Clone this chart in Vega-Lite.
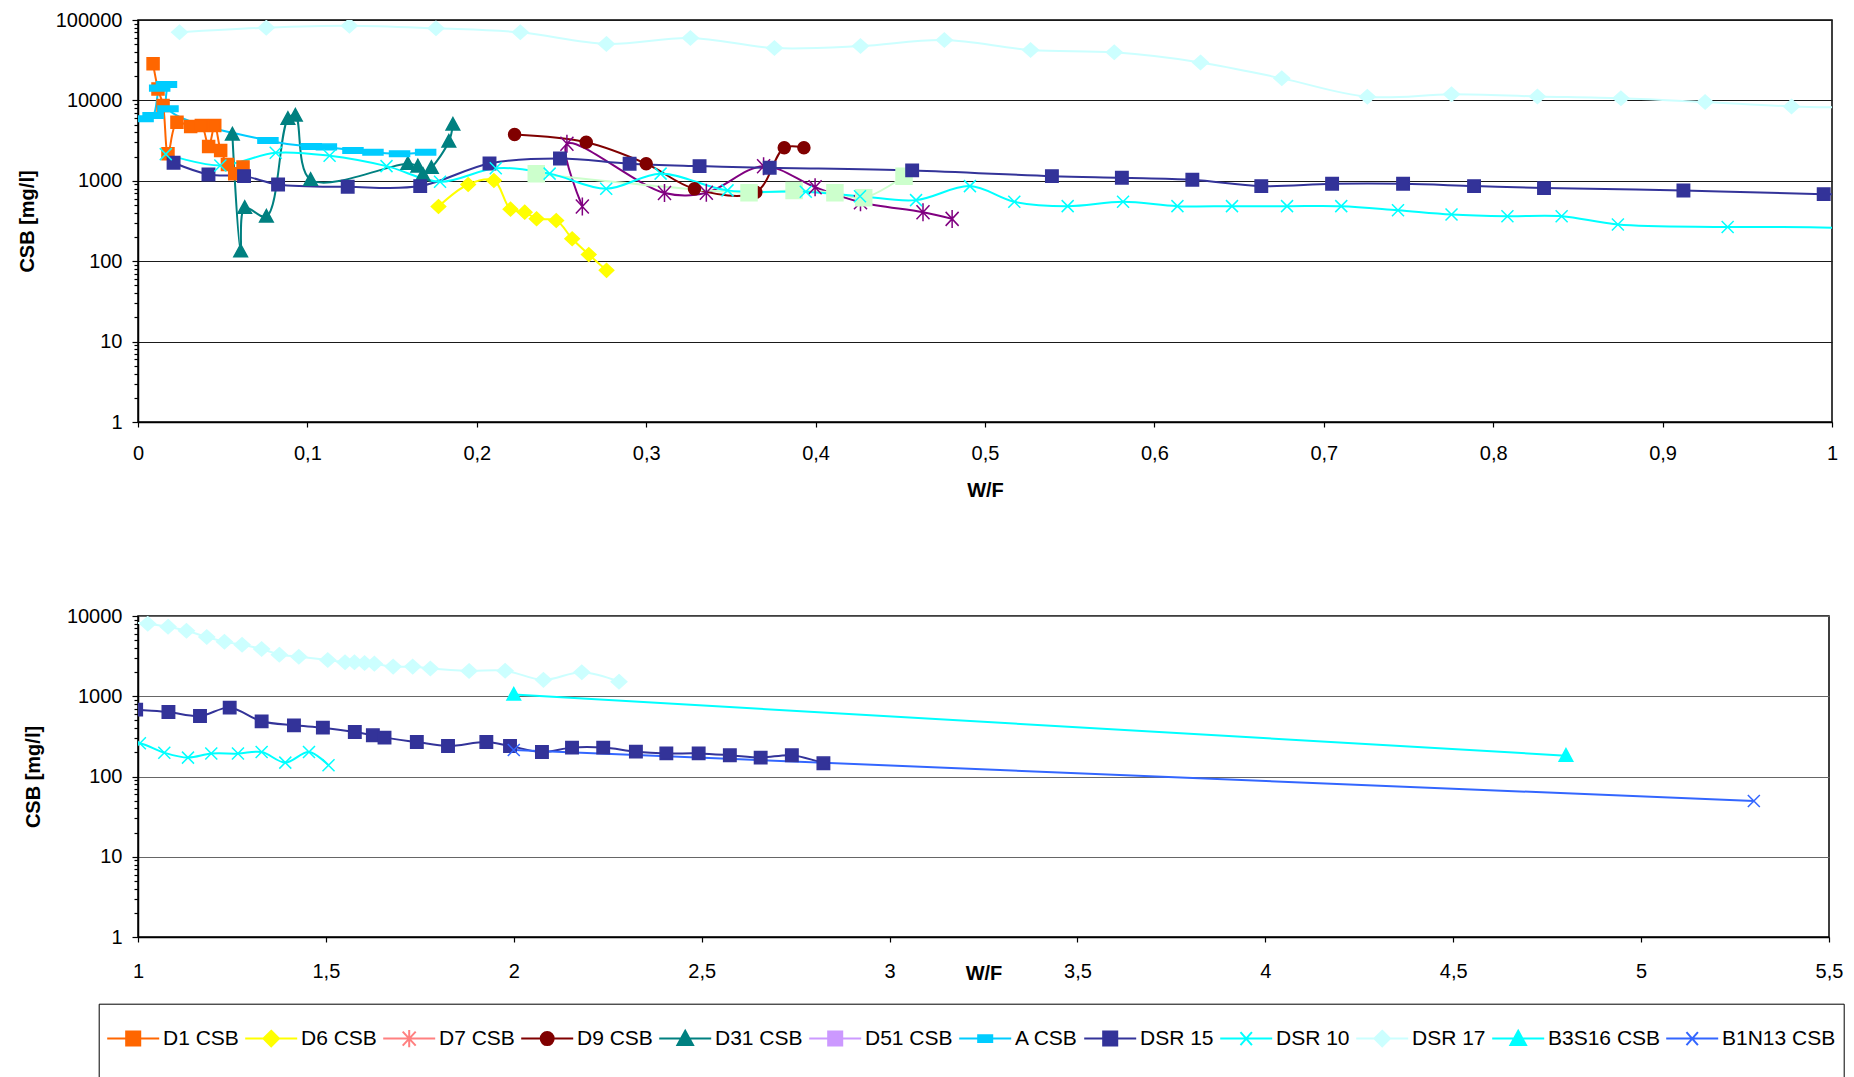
{
  "$schema": "https://vega.github.io/schema/vega-lite/v6.json",
  "padding": {"left": 16, "top": 9, "right": 0, "bottom": 0},
  "background": "#ffffff",
  "config": {
    "font": "Liberation Sans",
    "view": {"stroke": "#000000", "strokeWidth": 1.5},
    "axis": {
      "labelFont": "Liberation Sans",
      "labelFontSize": 20,
      "labelColor": "#000000",
      "titleFont": "Liberation Sans",
      "titleFontSize": 20,
      "titleFontWeight": "bold",
      "titleColor": "#000000",
      "domainColor": "#000000",
      "domainWidth": 1.5,
      "tickColor": "#000000",
      "tickWidth": 1.2,
      "labelFlush": false,
      "labelOverlap": false
    },
    "legend": {
      "labelFont": "Liberation Sans",
      "labelFontSize": 21,
      "labelColor": "#000000",
      "padding": 7.5,
      "strokeColor": "#000000",
      "symbolSize": 2704,
      "symbolStrokeWidth": 2,
      "symbolOffset": 0,
      "labelOffset": 2.8,
      "columnPadding": 2,
      "rowPadding": 0,
      "labelLimit": 300
    }
  },
  "datasets": {
    "csb": [
      {"s": "D1 CSB", "x": 0.0089, "y": 28500},
      {"s": "D1 CSB", "x": 0.0118, "y": 13900},
      {"s": "D1 CSB", "x": 0.0148, "y": 8650},
      {"s": "D1 CSB", "x": 0.0177, "y": 2170},
      {"s": "D1 CSB", "x": 0.023, "y": 5350},
      {"s": "D1 CSB", "x": 0.0311, "y": 4730},
      {"s": "D1 CSB", "x": 0.0374, "y": 4870},
      {"s": "D1 CSB", "x": 0.0417, "y": 2670},
      {"s": "D1 CSB", "x": 0.0453, "y": 4870},
      {"s": "D1 CSB", "x": 0.0488, "y": 2380},
      {"s": "D1 CSB", "x": 0.0528, "y": 1600},
      {"s": "D1 CSB", "x": 0.0571, "y": 1220},
      {"s": "D1 CSB", "x": 0.062, "y": 1480},

      {"s": "D6 CSB", "x": 0.1774, "y": 479},
      {"s": "D6 CSB", "x": 0.1949, "y": 899},
      {"s": "D6 CSB", "x": 0.2101, "y": 1008},
      {"s": "D6 CSB", "x": 0.2199, "y": 444},
      {"s": "D6 CSB", "x": 0.2283, "y": 407},
      {"s": "D6 CSB", "x": 0.2353, "y": 337},
      {"s": "D6 CSB", "x": 0.2469, "y": 321},
      {"s": "D6 CSB", "x": 0.2563, "y": 190},
      {"s": "D6 CSB", "x": 0.2661, "y": 121},
      {"s": "D6 CSB", "x": 0.2766, "y": 77},

      {"s": "D7 CSB", "x": 0.2623, "y": 479},
      {"s": "D7 CSB", "x": 0.2532, "y": 2884},
      {"s": "D7 CSB", "x": 0.3108, "y": 705},
      {"s": "D7 CSB", "x": 0.3355, "y": 712},
      {"s": "D7 CSB", "x": 0.3693, "y": 1520},
      {"s": "D7 CSB", "x": 0.3997, "y": 832},
      {"s": "D7 CSB", "x": 0.4265, "y": 542},
      {"s": "D7 CSB", "x": 0.4634, "y": 407},
      {"s": "D7 CSB", "x": 0.4806, "y": 336},

      {"s": "D9 CSB", "x": 0.2223, "y": 3770},
      {"s": "D9 CSB", "x": 0.2646, "y": 3020},
      {"s": "D9 CSB", "x": 0.3, "y": 1630},
      {"s": "D9 CSB", "x": 0.3285, "y": 794},
      {"s": "D9 CSB", "x": 0.3647, "y": 720},
      {"s": "D9 CSB", "x": 0.3815, "y": 2570},
      {"s": "D9 CSB", "x": 0.3931, "y": 2570},

      {"s": "D31 CSB", "x": 0.0557, "y": 3770},
      {"s": "D31 CSB", "x": 0.0606, "y": 133},
      {"s": "D31 CSB", "x": 0.063, "y": 462},
      {"s": "D31 CSB", "x": 0.0758, "y": 359},
      {"s": "D31 CSB", "x": 0.0885, "y": 5900},
      {"s": "D31 CSB", "x": 0.0929, "y": 6490},
      {"s": "D31 CSB", "x": 0.1019, "y": 1030},
      {"s": "D31 CSB", "x": 0.1593, "y": 1630},
      {"s": "D31 CSB", "x": 0.1652, "y": 1510},
      {"s": "D31 CSB", "x": 0.1682, "y": 1190},
      {"s": "D31 CSB", "x": 0.1732, "y": 1450},
      {"s": "D31 CSB", "x": 0.1835, "y": 3080},
      {"s": "D31 CSB", "x": 0.1859, "y": 5010},

      {"s": "D51 CSB", "x": 0.2351, "y": 1222},
      {"s": "D51 CSB", "x": 0.3607, "y": 710},
      {"s": "D51 CSB", "x": 0.3873, "y": 757},
      {"s": "D51 CSB", "x": 0.4114, "y": 710},
      {"s": "D51 CSB", "x": 0.4284, "y": 615},
      {"s": "D51 CSB", "x": 0.4522, "y": 1140},

      {"s": "A CSB", "x": 0.003, "y": 5900},
      {"s": "A CSB", "x": 0.0089, "y": 6490},
      {"s": "A CSB", "x": 0.0128, "y": 14200},
      {"s": "A CSB", "x": 0.0168, "y": 15800},
      {"s": "A CSB", "x": 0.0177, "y": 7870},
      {"s": "A CSB", "x": 0.0767, "y": 3170},
      {"s": "A CSB", "x": 0.1023, "y": 2670},
      {"s": "A CSB", "x": 0.1112, "y": 2640},
      {"s": "A CSB", "x": 0.1269, "y": 2380},
      {"s": "A CSB", "x": 0.1387, "y": 2270},
      {"s": "A CSB", "x": 0.1544, "y": 2170},
      {"s": "A CSB", "x": 0.1698, "y": 2270},

      {"s": "DSR 15", "x": 0.021, "y": 1675},
      {"s": "DSR 15", "x": 0.0416, "y": 1200},
      {"s": "DSR 15", "x": 0.0626, "y": 1143},
      {"s": "DSR 15", "x": 0.0827, "y": 900},
      {"s": "DSR 15", "x": 0.1238, "y": 842},
      {"s": "DSR 15", "x": 0.1666, "y": 859},
      {"s": "DSR 15", "x": 0.2075, "y": 1644},
      {"s": "DSR 15", "x": 0.2491, "y": 1897},
      {"s": "DSR 15", "x": 0.2902, "y": 1629},
      {"s": "DSR 15", "x": 0.3315, "y": 1523},
      {"s": "DSR 15", "x": 0.3729, "y": 1453},
      {"s": "DSR 15", "x": 0.457, "y": 1346},
      {"s": "DSR 15", "x": 0.5395, "y": 1143},
      {"s": "DSR 15", "x": 0.5808, "y": 1090},
      {"s": "DSR 15", "x": 0.6224, "y": 1029},
      {"s": "DSR 15", "x": 0.6631, "y": 859},
      {"s": "DSR 15", "x": 0.7049, "y": 918},
      {"s": "DSR 15", "x": 0.7468, "y": 918},
      {"s": "DSR 15", "x": 0.7887, "y": 859},
      {"s": "DSR 15", "x": 0.83, "y": 811},
      {"s": "DSR 15", "x": 0.9123, "y": 758},
      {"s": "DSR 15", "x": 0.9951, "y": 682},
      {"s": "DSR 15", "x": 1.081, "y": 637},
      {"s": "DSR 15", "x": 1.165, "y": 568},
      {"s": "DSR 15", "x": 1.244, "y": 721},
      {"s": "DSR 15", "x": 1.329, "y": 487},
      {"s": "DSR 15", "x": 1.415, "y": 434},
      {"s": "DSR 15", "x": 1.492, "y": 406},
      {"s": "DSR 15", "x": 1.577, "y": 359},
      {"s": "DSR 15", "x": 1.625, "y": 326},
      {"s": "DSR 15", "x": 1.656, "y": 305},
      {"s": "DSR 15", "x": 1.742, "y": 269},
      {"s": "DSR 15", "x": 1.825, "y": 240},
      {"s": "DSR 15", "x": 1.927, "y": 269},
      {"s": "DSR 15", "x": 1.99, "y": 240},
      {"s": "DSR 15", "x": 2.075, "y": 202},
      {"s": "DSR 15", "x": 2.155, "y": 229},
      {"s": "DSR 15", "x": 2.238, "y": 229},
      {"s": "DSR 15", "x": 2.325, "y": 204},
      {"s": "DSR 15", "x": 2.406, "y": 194},
      {"s": "DSR 15", "x": 2.492, "y": 194},
      {"s": "DSR 15", "x": 2.575, "y": 184},
      {"s": "DSR 15", "x": 2.657, "y": 172},
      {"s": "DSR 15", "x": 2.74, "y": 184},
      {"s": "DSR 15", "x": 2.824, "y": 146},

      {"s": "DSR 10", "x": 0.0164, "y": 2148},
      {"s": "DSR 10", "x": 0.0486, "y": 1552},
      {"s": "DSR 10", "x": 0.0813, "y": 2233},
      {"s": "DSR 10", "x": 0.1131, "y": 2048},
      {"s": "DSR 10", "x": 0.1467, "y": 1523},
      {"s": "DSR 10", "x": 0.1783, "y": 972},
      {"s": "DSR 10", "x": 0.2112, "y": 1430},
      {"s": "DSR 10", "x": 0.243, "y": 1228},
      {"s": "DSR 10", "x": 0.2764, "y": 798},
      {"s": "DSR 10", "x": 0.3085, "y": 1228},
      {"s": "DSR 10", "x": 0.348, "y": 760},
      {"s": "DSR 10", "x": 0.3942, "y": 730},
      {"s": "DSR 10", "x": 0.4262, "y": 644},
      {"s": "DSR 10", "x": 0.4593, "y": 575},
      {"s": "DSR 10", "x": 0.4911, "y": 859},
      {"s": "DSR 10", "x": 0.5173, "y": 548},
      {"s": "DSR 10", "x": 0.5488, "y": 484},
      {"s": "DSR 10", "x": 0.5815, "y": 548},
      {"s": "DSR 10", "x": 0.6136, "y": 484},
      {"s": "DSR 10", "x": 0.6458, "y": 484},
      {"s": "DSR 10", "x": 0.6783, "y": 484},
      {"s": "DSR 10", "x": 0.7103, "y": 484},
      {"s": "DSR 10", "x": 0.7438, "y": 431},
      {"s": "DSR 10", "x": 0.7754, "y": 381},
      {"s": "DSR 10", "x": 0.8084, "y": 363},
      {"s": "DSR 10", "x": 0.8404, "y": 363},
      {"s": "DSR 10", "x": 0.8736, "y": 286},
      {"s": "DSR 10", "x": 0.9384, "y": 267},
      {"s": "DSR 10", "x": 1.005, "y": 259},
      {"s": "DSR 10", "x": 1.07, "y": 198},
      {"s": "DSR 10", "x": 1.133, "y": 172},
      {"s": "DSR 10", "x": 1.195, "y": 193},
      {"s": "DSR 10", "x": 1.266, "y": 193},
      {"s": "DSR 10", "x": 1.329, "y": 202},
      {"s": "DSR 10", "x": 1.392, "y": 149},
      {"s": "DSR 10", "x": 1.455, "y": 202},
      {"s": "DSR 10", "x": 1.507, "y": 138},

      {"s": "DSR 17", "x": 0.0245, "y": 70200},
      {"s": "DSR 17", "x": 0.0757, "y": 80300},
      {"s": "DSR 17", "x": 0.1248, "y": 85000},
      {"s": "DSR 17", "x": 0.1759, "y": 78700},
      {"s": "DSR 17", "x": 0.2257, "y": 70200},
      {"s": "DSR 17", "x": 0.2765, "y": 50400},
      {"s": "DSR 17", "x": 0.3261, "y": 59800},
      {"s": "DSR 17", "x": 0.3757, "y": 44800},
      {"s": "DSR 17", "x": 0.4265, "y": 47400},
      {"s": "DSR 17", "x": 0.476, "y": 56400},
      {"s": "DSR 17", "x": 0.5269, "y": 42300},
      {"s": "DSR 17", "x": 0.5763, "y": 39600},
      {"s": "DSR 17", "x": 0.6272, "y": 29700},
      {"s": "DSR 17", "x": 0.6752, "y": 18800},
      {"s": "DSR 17", "x": 0.7257, "y": 11100},
      {"s": "DSR 17", "x": 0.7754, "y": 11900},
      {"s": "DSR 17", "x": 0.8261, "y": 11200},
      {"s": "DSR 17", "x": 0.8754, "y": 10600},
      {"s": "DSR 17", "x": 0.9251, "y": 9530},
      {"s": "DSR 17", "x": 0.9761, "y": 8420},
      {"s": "DSR 17", "x": 1.026, "y": 8020},
      {"s": "DSR 17", "x": 1.08, "y": 7360},
      {"s": "DSR 17", "x": 1.129, "y": 6560},
      {"s": "DSR 17", "x": 1.183, "y": 5470},
      {"s": "DSR 17", "x": 1.23, "y": 4780},
      {"s": "DSR 17", "x": 1.277, "y": 4390},
      {"s": "DSR 17", "x": 1.329, "y": 3880},
      {"s": "DSR 17", "x": 1.376, "y": 3300},
      {"s": "DSR 17", "x": 1.428, "y": 3110},
      {"s": "DSR 17", "x": 1.505, "y": 2830},
      {"s": "DSR 17", "x": 1.551, "y": 2650},
      {"s": "DSR 17", "x": 1.576, "y": 2650},
      {"s": "DSR 17", "x": 1.603, "y": 2600},
      {"s": "DSR 17", "x": 1.629, "y": 2550},
      {"s": "DSR 17", "x": 1.679, "y": 2340},
      {"s": "DSR 17", "x": 1.731, "y": 2340},
      {"s": "DSR 17", "x": 1.778, "y": 2210},
      {"s": "DSR 17", "x": 1.881, "y": 2070},
      {"s": "DSR 17", "x": 1.977, "y": 2080},
      {"s": "DSR 17", "x": 2.079, "y": 1600},
      {"s": "DSR 17", "x": 2.181, "y": 1990},
      {"s": "DSR 17", "x": 2.28, "y": 1520},

      {"s": "B3S16 CSB", "x": 2.0, "y": 1050},
      {"s": "B3S16 CSB", "x": 4.8, "y": 182},

      {"s": "B1N13 CSB", "x": 2.0, "y": 214},
      {"s": "B1N13 CSB", "x": 5.3, "y": 49.4}
    ]
  },
  "columns": 1,
  "align": "none",
  "spacing": 104,
  "concat": [
    {
      "width": 1694,
      "height": 402,
      "data": {"name": "csb"},
      "encoding": {
        "x": {
          "field": "x",
          "type": "quantitative",
          "scale": {"domain": [0, 1], "nice": false, "zero": false},
          "axis": {
            "title": "W/F",
            "values": [0, 0.1, 0.2, 0.3, 0.4, 0.5, 0.6, 0.7, 0.8, 0.9, 1],
            "labelExpr": "replace(format(datum.value, '~g'), '.', ',')",
            "grid": false,
            "tickSize": 5,
            "labelPadding": 16,
            "titlePadding": 17
          }
        },
        "y": {
          "field": "y",
          "type": "quantitative",
          "scale": {"type": "log", "domain": [1, 100000], "nice": false},
          "axis": {
            "title": "CSB [mg/l]",
            "values": [1, 2, 3, 4, 5, 6, 7, 8, 9, 10, 20, 30, 40, 50, 60, 70, 80, 90, 100, 200, 300, 400, 500, 600, 700, 800, 900, 1000, 2000, 3000, 4000, 5000, 6000, 7000, 8000, 9000, 10000, 20000, 30000, 40000, 50000, 60000, 70000, 80000, 90000, 100000],
            "labelExpr": "indexof([1, 10, 100, 1000, 10000, 100000], datum.value) >= 0 ? format(datum.value, 'd') : ''",
            "grid": true,
            "gridColor": "#1a1a1a",
            "gridWidth": 1.2,
            "gridOpacity": {"condition": {"test": "indexof([1, 10, 100, 1000, 10000, 100000], datum.value) >= 0", "value": 1}, "value": 0},
            "tickSize": {"condition": {"test": "indexof([1, 10, 100, 1000, 10000, 100000], datum.value) >= 0", "value": 6}, "value": 4},
            "labelPadding": 10,
            "minExtent": 83,
            "maxExtent": 83,
            "titlePadding": 18
          }
        }
      },
      "layer": [
        {
          "mark": {"type": "line", "interpolate": "catmull-rom", "strokeWidth": 2, "clip": true},
          "encoding": {
            "stroke": {
              "field": "s",
              "type": "nominal",
              "scale": {
                "domain": ["D1 CSB", "D6 CSB", "D7 CSB", "D9 CSB", "D31 CSB", "D51 CSB", "A CSB", "DSR 15", "DSR 10", "DSR 17", "B3S16 CSB", "B1N13 CSB"],
                "range": ["#FF6600", "#FFFF00", "#800080", "#800000", "#008080", "#CCFFCC", "#00CCFF", "#333399", "#00FFFF", "#CCFFFF", "#00FFFF", "#3366FF"]
              },
              "legend": null
            },
            "order": {"value": null}
          }
        },
        {
          "mark": {"type": "point", "filled": true, "opacity": 1, "size": 400, "strokeWidth": 1.5, "clip": true},
          "encoding": {
            "fill": {
              "field": "s",
              "type": "nominal",
              "scale": {
                "domain": ["D1 CSB", "D6 CSB", "D7 CSB", "D9 CSB", "D31 CSB", "D51 CSB", "A CSB", "DSR 15", "DSR 10", "DSR 17", "B3S16 CSB", "B1N13 CSB"],
                "range": ["#FF6600", "#FFFF00", "#800080", "#800000", "#008080", "#CCFFCC", "#00CCFF", "#333399", "#00FFFF", "#CCFFFF", "#00FFFF", "#3366FF"]
              },
              "legend": null
            },
            "stroke": {"field": "s", "type": "nominal", "legend": null},
            "shape": {
              "field": "s",
              "type": "nominal",
              "scale": {
                "domain": ["D1 CSB", "D6 CSB", "D7 CSB", "D9 CSB", "D31 CSB", "D51 CSB", "A CSB", "DSR 15", "DSR 10", "DSR 17", "B3S16 CSB", "B1N13 CSB"],
                "range": [
                  "M-0.6,-0.6H0.6V0.6H-0.6Z",
                  "M0,-0.68L0.72,0L0,0.68L-0.72,0Z",
                  "M-0.65,-0.7L0.65,0.7M-0.65,0.7L0.65,-0.7M0,-0.9V0.9",
                  "M0.6,0A0.6,0.6 0 1,1 -0.6,0A0.6,0.6 0 1,1 0.6,0Z",
                  "M0,-0.7L0.68,0.55L-0.68,0.55Z",
                  "M-0.8,-0.8H0.8V0.8H-0.8Z",
                  "M-1,-0.28H1V0.28H-1Z",
                  "M-0.62,-0.62H0.62V0.62H-0.62Z",
                  "M-0.6,-0.6L0.6,0.6M-0.6,0.6L0.6,-0.6",
                  "M0,-0.7L0.78,0L0,0.7L-0.78,0Z",
                  "M0,-0.7L0.68,0.55L-0.68,0.55Z",
                  "M-0.6,-0.6L0.6,0.6M-0.6,0.6L0.6,-0.6"
                ]
              },
              "legend": null
            }
          }
        }
      ]
    },
    {
      "width": 1691,
      "height": 321,
      "data": {"name": "csb"},
      "encoding": {
        "x": {
          "field": "x",
          "type": "quantitative",
          "scale": {"domain": [1, 5.5], "nice": false, "zero": false},
          "axis": {
            "title": "W/F",
            "values": [1, 1.5, 2, 2.5, 3, 3.5, 4, 4.5, 5, 5.5],
            "labelExpr": "replace(format(datum.value, '~g'), '.', ',')",
            "grid": false,
            "tickSize": 5,
            "labelPadding": 19,
            "titleBaseline": "middle",
            "titleY": 36
          }
        },
        "y": {
          "field": "y",
          "type": "quantitative",
          "scale": {"type": "log", "domain": [1, 10000], "nice": false},
          "axis": {
            "title": "CSB [mg/l]",
            "values": [1, 2, 3, 4, 5, 6, 7, 8, 9, 10, 20, 30, 40, 50, 60, 70, 80, 90, 100, 200, 300, 400, 500, 600, 700, 800, 900, 1000, 2000, 3000, 4000, 5000, 6000, 7000, 8000, 9000, 10000],
            "labelExpr": "indexof([1, 10, 100, 1000, 10000], datum.value) >= 0 ? format(datum.value, 'd') : ''",
            "grid": true,
            "gridColor": "#666666",
            "gridWidth": 1.2,
            "gridOpacity": {"condition": {"test": "indexof([1, 10, 100, 1000, 10000], datum.value) >= 0", "value": 1}, "value": 0},
            "tickSize": {"condition": {"test": "indexof([1, 10, 100, 1000, 10000], datum.value) >= 0", "value": 6}, "value": 4},
            "labelPadding": 10,
            "minExtent": 77,
            "maxExtent": 77,
            "titlePadding": 18
          }
        }
      },
      "resolve": {"scale": {"fill": "independent", "stroke": "independent", "shape": "independent"}},
      "layer": [
        {
          "mark": {"type": "line", "interpolate": "catmull-rom", "strokeWidth": 2, "clip": true},
          "encoding": {
            "stroke": {
              "field": "s",
              "type": "nominal",
              "scale": {
                "domain": ["D1 CSB", "D6 CSB", "D7 CSB", "D9 CSB", "D31 CSB", "D51 CSB", "A CSB", "DSR 15", "DSR 10", "DSR 17", "B3S16 CSB", "B1N13 CSB"],
                "range": ["#FF6600", "#FFFF00", "#800080", "#800000", "#008080", "#CCFFCC", "#00CCFF", "#333399", "#00FFFF", "#CCFFFF", "#00FFFF", "#3366FF"]
              },
              "legend": null
            },
            "order": {"value": null}
          }
        },
        {
          "mark": {"type": "point", "filled": true, "opacity": 1, "size": 400, "strokeWidth": 1.5, "clip": true},
          "encoding": {
            "fill": {
              "field": "s",
              "type": "nominal",
              "scale": {
                "domain": ["D1 CSB", "D6 CSB", "D7 CSB", "D9 CSB", "D31 CSB", "D51 CSB", "A CSB", "DSR 15", "DSR 10", "DSR 17", "B3S16 CSB", "B1N13 CSB"],
                "range": ["#FF6600", "#FFFF00", "#800080", "#800000", "#008080", "#CCFFCC", "#00CCFF", "#333399", "#00FFFF", "#CCFFFF", "#00FFFF", "#3366FF"]
              },
              "legend": null
            },
            "stroke": {
              "field": "s",
              "type": "nominal",
              "scale": {
                "domain": ["D1 CSB", "D6 CSB", "D7 CSB", "D9 CSB", "D31 CSB", "D51 CSB", "A CSB", "DSR 15", "DSR 10", "DSR 17", "B3S16 CSB", "B1N13 CSB"],
                "range": ["#FF6600", "#FFFF00", "#800080", "#800000", "#008080", "#CCFFCC", "#00CCFF", "#333399", "#00FFFF", "#CCFFFF", "#00FFFF", "#3366FF"]
              },
              "legend": null
            },
            "shape": {
              "field": "s",
              "type": "nominal",
              "scale": {
                "domain": ["D1 CSB", "D6 CSB", "D7 CSB", "D9 CSB", "D31 CSB", "D51 CSB", "A CSB", "DSR 15", "DSR 10", "DSR 17", "B3S16 CSB", "B1N13 CSB"],
                "range": [
                  "M-0.6,-0.6H0.6V0.6H-0.6Z",
                  "M0,-0.68L0.72,0L0,0.68L-0.72,0Z",
                  "M-0.65,-0.7L0.65,0.7M-0.65,0.7L0.65,-0.7M0,-0.9V0.9",
                  "M0.6,0A0.6,0.6 0 1,1 -0.6,0A0.6,0.6 0 1,1 0.6,0Z",
                  "M0,-0.7L0.68,0.55L-0.68,0.55Z",
                  "M-0.8,-0.8H0.8V0.8H-0.8Z",
                  "M-1,-0.28H1V0.28H-1Z",
                  "M-0.62,-0.62H0.62V0.62H-0.62Z",
                  "M-0.6,-0.6L0.6,0.6M-0.6,0.6L0.6,-0.6",
                  "M0,-0.7L0.78,0L0,0.7L-0.78,0Z",
                  "M0,-0.7L0.68,0.55L-0.68,0.55Z",
                  "M-0.6,-0.6L0.6,0.6M-0.6,0.6L0.6,-0.6"
                ]
              },
              "legend": null
            }
          }
        },
        {
          "transform": [{"filter": "false"}],
          "mark": {"type": "point", "filled": true, "opacity": 1, "strokeWidth": 2},
          "encoding": {
            "fill": {
              "field": "s",
              "type": "nominal",
              "scale": {
                "domain": ["D1 CSB", "D6 CSB", "D7 CSB", "D9 CSB", "D31 CSB", "D51 CSB", "A CSB", "DSR 15", "DSR 10", "DSR 17", "B3S16 CSB", "B1N13 CSB"],
                "range": ["#FF6600", "#FFFF00", "#FF8080", "#800000", "#008080", "#CC99FF", "#00CCFF", "#333399", "#00FFFF", "#CCFFFF", "#00FFFF", "#3366FF"]
              },
              "legend": {"title": null, "orient": "none", "legendX": -39.3, "legendY": 387.7, "direction": "horizontal", "columns": 12}
            },
            "stroke": {
              "field": "s",
              "type": "nominal",
              "scale": {
                "domain": ["D1 CSB", "D6 CSB", "D7 CSB", "D9 CSB", "D31 CSB", "D51 CSB", "A CSB", "DSR 15", "DSR 10", "DSR 17", "B3S16 CSB", "B1N13 CSB"],
                "range": ["#FF6600", "#FFFF00", "#FF8080", "#800000", "#008080", "#CC99FF", "#00CCFF", "#333399", "#00FFFF", "#CCFFFF", "#00FFFF", "#3366FF"]
              },
              "legend": {"title": null, "orient": "none", "legendX": -39.3, "legendY": 387.7, "direction": "horizontal", "columns": 12}
            },
            "shape": {
              "field": "s",
              "type": "nominal",
              "scale": {
                "domain": ["D1 CSB", "D6 CSB", "D7 CSB", "D9 CSB", "D31 CSB", "D51 CSB", "A CSB", "DSR 15", "DSR 10", "DSR 17", "B3S16 CSB", "B1N13 CSB"],
                "range": [
                  "M0,2.2M-1,0H1M-0.27,-0.27H0.27V0.27H-0.27Z",
                  "M0,2.2M-1,0H1M0,-0.3L0.3,0L0,0.3L-0.3,0Z",
                  "M0,2.2M-1,0H1M-0.25,-0.27L0.25,0.27M-0.25,0.27L0.25,-0.27M0,-0.33V0.33",
                  "M0,2.2M-1,0H1M0.25,0A0.25,0.25 0 1,1 -0.25,0A0.25,0.25 0 1,1 0.25,0Z",
                  "M0,2.2M-1,0H1M0,-0.3L0.3,0.25L-0.3,0.25Z",
                  "M0,2.2M-1,0H1M-0.27,-0.27H0.27V0.27H-0.27Z",
                  "M0,2.2M-1,0H1M-0.27,-0.13H0.27V0.13H-0.27Z",
                  "M0,2.2M-1,0H1M-0.27,-0.27H0.27V0.27H-0.27Z",
                  "M0,2.2M-1,0H1M-0.22,-0.25L0.22,0.25M-0.22,0.25L0.22,-0.25",
                  "M0,2.2M-1,0H1M0,-0.3L0.3,0L0,0.3L-0.3,0Z",
                  "M0,2.2M-1,0H1M0,-0.3L0.3,0.25L-0.3,0.25Z",
                  "M0,2.2M-1,0H1M-0.22,-0.25L0.22,0.25M-0.22,0.25L0.22,-0.25"
                ]
              },
              "legend": {"title": null, "orient": "none", "legendX": -39.3, "legendY": 387.7, "direction": "horizontal", "columns": 12}
            }
          }
        }
      ]
    }
  ]
}
